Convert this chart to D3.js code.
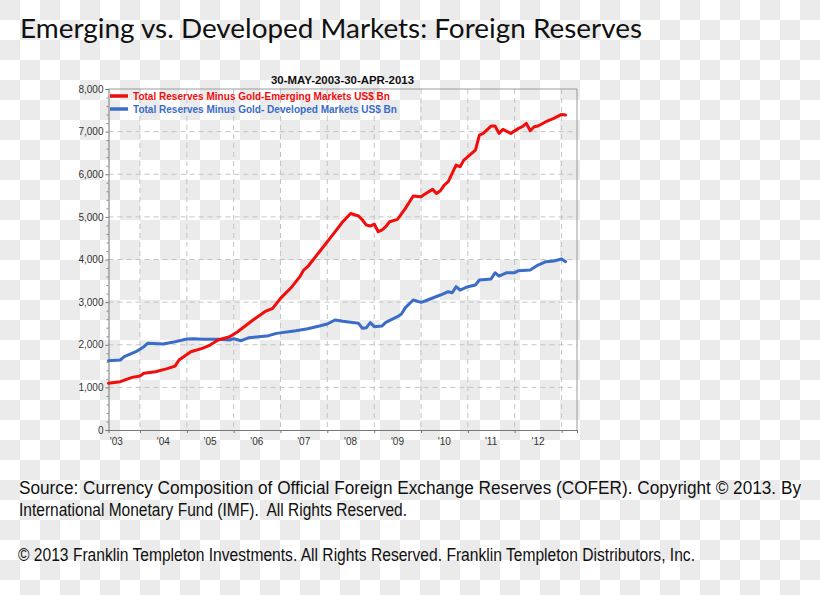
<!DOCTYPE html>
<html>
<head>
<meta charset="utf-8">
<script src="https://cdn.jsdelivr.net/npm/d3@7"></script>
<style>
  html, body { margin: 0; padding: 0; background: #fff; }
  svg { display: block; }
  text.pre { white-space: pre; }
</style>
</head>
<body>
<svg id="chart" width="820" height="595"></svg>
<script>
// ---------------- DATA ----------------
const titleText = "Emerging vs. Developed Markets: Foreign Reserves";
const subtitleText = "30-MAY-2003-30-APR-2013";
const seriesNames = [
  "Total Reserves Minus Gold-Emerging Markets US$ Bn",
  "Total Reserves Minus Gold- Developed Markets US$ Bn"
];
const sourceLines = [
  "Source: Currency Composition of Official Foreign Exchange Reserves (COFER). Copyright \u00a9 2013. By",
  "International Monetary Fund (IMF).  All Rights Reserved."
];
const copyrightText = "\u00a9 2013 Franklin Templeton Investments. All Rights Reserved. Franklin Templeton Distributors, Inc.";

const yTicks = [0, 1000, 2000, 3000, 4000, 5000, 6000, 7000, 8000];
const xYears = [2003, 2004, 2005, 2006, 2007, 2008, 2009, 2010, 2011, 2012];
const xTickLabels = ["'03", "'04", "'05", "'06", "'07", "'08", "'09", "'10", "'11", "'12"];

// Emerging markets (red)
const emDates = ["2003-05","2003-08","2003-11","2004-01","2004-02","2004-05","2004-08","2004-10","2004-11",
  "2005-02","2005-05","2005-07","2005-09","2005-12","2006-02","2006-06","2006-09","2006-11",
  "2007-01","2007-04","2007-06","2007-07","2007-08","2007-11","2008-02","2008-04","2008-05","2008-07",
  "2008-09","2008-10","2008-11","2008-12","2009-01","2009-02","2009-03","2009-04","2009-05","2009-07",
  "2009-09","2009-11","2010-01","2010-02","2010-04","2010-05","2010-06","2010-07","2010-08","2010-10",
  "2010-11","2010-12","2011-03","2011-04","2011-05","2011-07","2011-08","2011-09","2011-10","2011-12",
  "2012-02","2012-03","2012-04","2012-05","2012-06","2012-07","2012-09","2012-11","2013-01","2013-02"];
const emValues = [1095,1134,1235,1267,1330,1368,1439,1500,1642,
  1837,1916,1994,2111,2189,2306,2580,2776,2854,
  3088,3362,3597,3753,3831,4183,4535,4769,4887,5080,
  5020,4926,4808,4785,4832,4652,4691,4769,4887,4941,
  5199,5489,5473,5536,5645,5551,5614,5747,5825,6216,
  6177,6333,6568,6919,6959,7131,7131,6959,7052,6959,
  7076,7115,7193,7021,7115,7131,7232,7310,7404,7389];

// Developed markets (blue)
const dmDates = ["2003-05","2003-08","2003-09","2003-12","2004-02","2004-03","2004-07","2004-10","2005-01",
  "2005-03","2005-05","2005-09","2005-12","2006-01","2006-03","2006-05","2006-10","2006-12",
  "2007-05","2007-08","2007-11","2008-01","2008-03","2008-05","2008-09","2008-10","2008-11","2008-12",
  "2009-01","2009-03","2009-04","2009-07","2009-08","2009-09","2009-11","2010-01","2010-02","2010-06",
  "2010-08","2010-09","2010-10","2010-11","2011-01","2011-03","2011-04","2011-07","2011-08","2011-09",
  "2011-11","2012-01","2012-02","2012-05","2012-07","2012-09","2012-11","2013-01","2013-02"];
const dmValues = [1626,1642,1720,1837,1955,2033,2017,2072,2134,
  2142,2127,2127,2111,2142,2095,2166,2213,2267,
  2330,2377,2439,2486,2580,2549,2502,2385,2400,2518,
  2424,2439,2525,2658,2720,2870,3049,2995,3026,3167,
  3245,3221,3362,3284,3362,3401,3518,3542,3690,3612,
  3690,3690,3737,3753,3870,3948,3964,4011,3948];

// ---------------- DRAW ----------------
const W = 820, H = 595;
const svg = d3.select("#chart");
const parse = d3.timeParse("%Y-%m");

// checkerboard background (as in the reference picture)
const defs = svg.append("defs");
const pat = defs.append("pattern").attr("id", "checker")
  .attr("width", 40).attr("height", 40).attr("patternUnits", "userSpaceOnUse");
pat.append("rect").attr("width", 40).attr("height", 40).attr("fill", "#ffffff");
pat.append("rect").attr("x", 0).attr("y", 0).attr("width", 20).attr("height", 20).attr("fill", "#ebebeb");
pat.append("rect").attr("x", 20).attr("y", 20).attr("width", 20).attr("height", 20).attr("fill", "#ebebeb");
svg.append("rect").attr("width", W).attr("height", H).attr("fill", "url(#checker)");

const plot = { left: 108.5, right: 577, top: 89, bottom: 430 };
const x = d3.scaleTime()
  .domain([new Date(2003, 4, 1), new Date(2013, 4, 1)])
  .range([plot.left, plot.right]);
const y = d3.scaleLinear().domain([0, 8000]).range([plot.bottom, plot.top]);

// Title
svg.append("text").attr("x", 20).attr("y", 38)
  .attr("font-family", "Lato, 'Open Sans', sans-serif").attr("font-size", 27.5)
  .attr("fill", "#111").attr("textLength", 622).attr("lengthAdjust", "spacingAndGlyphs")
  .text(titleText);

// Subtitle
svg.append("text").attr("x", 342.5).attr("y", 84).attr("text-anchor", "middle")
  .attr("font-family", "'Liberation Sans', Arial, sans-serif").attr("font-size", 11)
  .attr("font-weight", "bold").attr("fill", "#111")
  .attr("textLength", 143).attr("lengthAdjust", "spacingAndGlyphs")
  .text(subtitleText);

// Grid lines
const grid = svg.append("g");
grid.selectAll("line.h").data(yTicks.filter(d => d > 0 && d < 8000)).join("line")
  .attr("x1", plot.left).attr("x2", plot.right)
  .attr("y1", d => y(d)).attr("y2", d => y(d))
  .attr("stroke", "#c4c4c4").attr("stroke-width", 1).attr("stroke-dasharray", "5,4");
const yearBounds = xYears.map(yr => new Date(yr + 1, 0, 1));
grid.selectAll("line.v").data(yearBounds).join("line")
  .attr("x1", d => x(d)).attr("x2", d => x(d))
  .attr("y1", plot.top).attr("y2", plot.bottom)
  .attr("stroke", "#c4c4c4").attr("stroke-width", 1).attr("stroke-dasharray", "5,4");

// Frame (top and right)
svg.append("path")
  .attr("d", `M${plot.left},${plot.top}H${plot.right}V${plot.bottom}`)
  .attr("fill", "none").attr("stroke", "#9a9a9a").attr("stroke-width", 1);

// Y axis
const yAxis = svg.append("g").attr("transform", `translate(${plot.left},0)`)
  .call(d3.axisLeft(y).tickValues(yTicks).tickFormat(d3.format(",")).tickSize(3).tickPadding(2));
yAxis.select(".domain").attr("stroke", "#777");
yAxis.selectAll(".tick line").attr("stroke", "#777");
yAxis.selectAll("text").attr("font-family", "'Liberation Sans', Arial, sans-serif")
  .attr("font-size", 10).attr("fill", "#333");
// minor ticks
const yMinor = svg.append("g").attr("transform", `translate(${plot.left},0)`)
  .call(d3.axisLeft(y).tickValues(d3.range(200, 8000, 200).filter(d => d % 1000 !== 0)).tickFormat("").tickSize(2));
yMinor.select(".domain").remove();
yMinor.selectAll(".tick line").attr("stroke", "#888");

// X axis
const xAxis = svg.append("g").attr("transform", `translate(0,${plot.bottom})`)
  .call(d3.axisBottom(x).tickValues(yearBounds).tickFormat("").tickSize(3));
xAxis.select(".domain").attr("stroke", "#777");
xAxis.selectAll(".tick line").attr("stroke", "#777");
svg.append("g").selectAll("text").data(xYears).join("text")
  .attr("x", (d) => x(new Date(d, 6, 1)))
  .attr("y", 445).attr("text-anchor", "middle")
  .attr("font-family", "'Liberation Sans', Arial, sans-serif").attr("font-size", 10).attr("fill", "#333")
  .text((d, i) => xTickLabels[i]);

// Lines
const line = d3.line().x(d => x(d.date)).y(d => y(d.value));
const emData = emDates.map((d, i) => ({ date: parse(d), value: emValues[i] }));
const dmData = dmDates.map((d, i) => ({ date: parse(d), value: dmValues[i] }));
const colors = ["#f20d0d", "#3a6cc8"];
svg.append("path").datum(dmData).attr("d", line)
  .attr("fill", "none").attr("stroke", colors[1]).attr("stroke-width", 3)
  .attr("stroke-linejoin", "round").attr("stroke-linecap", "round");
svg.append("path").datum(emData).attr("d", line)
  .attr("fill", "none").attr("stroke", colors[0]).attr("stroke-width", 3)
  .attr("stroke-linejoin", "round").attr("stroke-linecap", "round");

// Legend
const legend = svg.append("g");
const legendY = [96, 109];
const legendW = [257, 264];
seriesNames.forEach((name, i) => {
  legend.append("line").attr("x1", 110).attr("x2", 128)
    .attr("y1", legendY[i]).attr("y2", legendY[i])
    .attr("stroke", colors[i]).attr("stroke-width", 3.5);
  legend.append("text").attr("x", 133).attr("y", legendY[i] + 4)
    .attr("font-family", "'Liberation Sans', Arial, sans-serif").attr("font-size", 10.5)
    .attr("font-weight", "bold").attr("fill", colors[i])
    .attr("textLength", legendW[i]).attr("lengthAdjust", "spacingAndGlyphs")
    .text(name);
});

// Footer texts
const footFont = "'Liberation Sans Narrow', 'Arial Narrow', 'Liberation Sans', Arial, sans-serif";
const srcW = [782, 388];
const srcY = [494, 516];
sourceLines.forEach((t, i) => {
  svg.append("text").attr("class", "pre").attr("x", 19).attr("y", srcY[i])
    .attr("font-family", footFont).attr("font-size", 17.5).attr("fill", "#111")
    .attr("textLength", srcW[i]).attr("lengthAdjust", "spacingAndGlyphs")
    .text(t);
});
svg.append("text").attr("x", 18).attr("y", 561)
  .attr("font-family", footFont).attr("font-size", 17.5).attr("fill", "#111")
  .attr("textLength", 677).attr("lengthAdjust", "spacingAndGlyphs")
  .text(copyrightText);
</script>
</body>
</html>
